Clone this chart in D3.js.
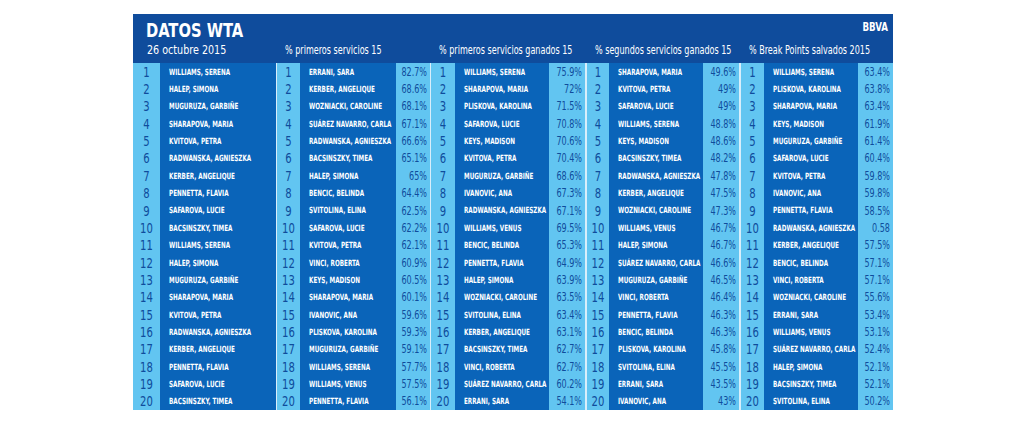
<!DOCTYPE html>
<html><head><meta charset="utf-8">
<script src="https://cdn.jsdelivr.net/npm/d3@7"></script>
<style>body{margin:0;background:#fff}svg{display:block}text{font-family:"DejaVu Sans Condensed","Liberation Sans",sans-serif}</style>
</head><body><svg id="c" width="1024" height="423"></svg>
<script>
const ranks = d3.range(1, 21);
const headers = ["", "% primeros servicios 15", "% primeros servicios ganados 15", "% segundos servicios ganados 15", "% Break Points salvados 2015"];
const rankingNames = ["WILLIAMS, SERENA","HALEP, SIMONA","MUGURUZA, GARBIÑE","SHARAPOVA, MARIA","KVITOVA, PETRA","RADWANSKA, AGNIESZKA","KERBER, ANGELIQUE","PENNETTA, FLAVIA","SAFAROVA, LUCIE","BACSINSZKY, TIMEA","WILLIAMS, SERENA","HALEP, SIMONA","MUGURUZA, GARBIÑE","SHARAPOVA, MARIA","KVITOVA, PETRA","RADWANSKA, AGNIESZKA","KERBER, ANGELIQUE","PENNETTA, FLAVIA","SAFAROVA, LUCIE","BACSINSZKY, TIMEA"];
const firstServeNames = ["ERRANI, SARA","KERBER, ANGELIQUE","WOZNIACKI, CAROLINE","SUÁREZ NAVARRO, CARLA","RADWANSKA, AGNIESZKA","BACSINSZKY, TIMEA","HALEP, SIMONA","BENCIC, BELINDA","SVITOLINA, ELINA","SAFAROVA, LUCIE","KVITOVA, PETRA","VINCI, ROBERTA","KEYS, MADISON","SHARAPOVA, MARIA","IVANOVIC, ANA","PLISKOVA, KAROLINA","MUGURUZA, GARBIÑE","WILLIAMS, SERENA","WILLIAMS, VENUS","PENNETTA, FLAVIA"];
const firstServeValues = [82.7,68.6,68.1,67.1,66.6,65.1,65,64.4,62.5,62.2,62.1,60.9,60.5,60.1,59.6,59.3,59.1,57.7,57.5,56.1];
const firstWonNames = ["WILLIAMS, SERENA","SHARAPOVA, MARIA","PLISKOVA, KAROLINA","SAFAROVA, LUCIE","KEYS, MADISON","KVITOVA, PETRA","MUGURUZA, GARBIÑE","IVANOVIC, ANA","RADWANSKA, AGNIESZKA","WILLIAMS, VENUS","BENCIC, BELINDA","PENNETTA, FLAVIA","HALEP, SIMONA","WOZNIACKI, CAROLINE","SVITOLINA, ELINA","KERBER, ANGELIQUE","BACSINSZKY, TIMEA","VINCI, ROBERTA","SUÁREZ NAVARRO, CARLA","ERRANI, SARA"];
const firstWonValues = [75.9,72,71.5,70.8,70.6,70.4,68.6,67.3,67.1,69.5,65.3,64.9,63.9,63.5,63.4,63.1,62.7,62.7,60.2,54.1];
const secondWonNames = ["SHARAPOVA, MARIA","KVITOVA, PETRA","SAFAROVA, LUCIE","WILLIAMS, SERENA","KEYS, MADISON","BACSINSZKY, TIMEA","RADWANSKA, AGNIESZKA","KERBER, ANGELIQUE","WOZNIACKI, CAROLINE","WILLIAMS, VENUS","HALEP, SIMONA","SUÁREZ NAVARRO, CARLA","MUGURUZA, GARBIÑE","VINCI, ROBERTA","PENNETTA, FLAVIA","BENCIC, BELINDA","PLISKOVA, KAROLINA","SVITOLINA, ELINA","ERRANI, SARA","IVANOVIC, ANA"];
const secondWonValues = [49.6,49,49,48.8,48.6,48.2,47.8,47.5,47.3,46.7,46.7,46.6,46.5,46.4,46.3,46.3,45.8,45.5,43.5,43];
const breakNames = ["WILLIAMS, SERENA","PLISKOVA, KAROLINA","SHARAPOVA, MARIA","KEYS, MADISON","MUGURUZA, GARBIÑE","SAFAROVA, LUCIE","KVITOVA, PETRA","IVANOVIC, ANA","PENNETTA, FLAVIA","RADWANSKA, AGNIESZKA","KERBER, ANGELIQUE","BENCIC, BELINDA","VINCI, ROBERTA","WOZNIACKI, CAROLINE","ERRANI, SARA","WILLIAMS, VENUS","SUÁREZ NAVARRO, CARLA","HALEP, SIMONA","BACSINSZKY, TIMEA","SVITOLINA, ELINA"];
const breakValues = [63.4,63.8,63.4,61.9,61.4,60.4,59.8,59.8,58.5,0.58,57.5,57.1,57.1,55.6,53.4,53.1,52.4,52.1,52.1,50.2];

const groups = [
  {names: rankingNames, values: null, x0:133, xn:160, xv:276, x1:276},
  {names: firstServeNames, values: firstServeValues, x0:277, xn:300, xv:396, x1:430},
  {names: firstWonNames, values: firstWonValues, x0:431, xn:455, xv:549, x1:585},
  {names: secondWonNames, values: secondWonValues, x0:587, xn:609, xv:703, x1:739},
  {names: breakNames, values: breakValues, x0:741, xn:764, xv:858, x1:893}
];
const fmt = v => v < 1 ? String(v) : v + "%";
const LIGHT = "#62c5f1", DARK = "#0a64b9", HEAD = "#0f4c9c", TXT = "#0f4c9c";

const svg = d3.select("#c");
const y = d3.scaleBand().domain(ranks).range([63, 410]).paddingInner(0);

function ctext(sel, x, yy, sx) {
  return sel.append("text").attr("transform", `translate(${x},${yy}) scale(${sx},1)`);
}

svg.append("rect").attr("x",133).attr("y",14).attr("width",760).attr("height",396).attr("fill","#d8eefb");
svg.append("rect").attr("x",133).attr("y",14).attr("width",760).attr("height",49).attr("fill",HEAD);
ctext(svg,146,37,0.82).attr("fill","#fff").attr("font-size",20).attr("font-weight","bold").text("DATOS WTA");
ctext(svg,147,54,0.82).attr("fill","#fff").attr("font-size",13).text("26 octubre 2015");
ctext(svg,888,31,0.8).attr("text-anchor","end").attr("fill","#fff").attr("font-size",12).attr("font-weight","bold").text("BBVA");

groups.forEach((g, gi) => {
  const G = svg.append("g");
  if (headers[gi]) ctext(G, g.x0 + 8, 54, 0.78).attr("fill","#fff").attr("font-size",11.5).text(headers[gi]);
  G.append("rect").attr("x",g.x0).attr("y",63).attr("width",g.xn-g.x0).attr("height",347).attr("fill",LIGHT);
  G.append("rect").attr("x",g.xn).attr("y",63).attr("width",g.xv-g.xn).attr("height",347).attr("fill",DARK);
  if (g.values) G.append("rect").attr("x",g.xv).attr("y",63).attr("width",g.x1-g.xv).attr("height",347).attr("fill",LIGHT);
  const rows = G.selectAll("g.r").data(ranks).join("g").attr("transform", d => `translate(0,${y(d)+y.bandwidth()/2})`);
  rows.each(function(d, i) {
    const r = d3.select(this);
    ctext(r, g.x0 + (g.xn-g.x0)/2, 0, 0.8).attr("dy","0.36em").attr("text-anchor","middle").attr("fill",TXT).attr("font-size",14).text(d);
    ctext(r, g.xn + 9, 0, 0.74).attr("dy","0.35em").attr("fill","#fff").attr("font-size",8.5).attr("font-weight","bold").text(g.names[i]);
    if (g.values) ctext(r, g.x1 - 3, 0, 0.78).attr("dy","0.35em").attr("text-anchor","end").attr("fill",TXT).attr("font-size",11.5).text(fmt(g.values[i]));
  });
});
</script></body></html>
